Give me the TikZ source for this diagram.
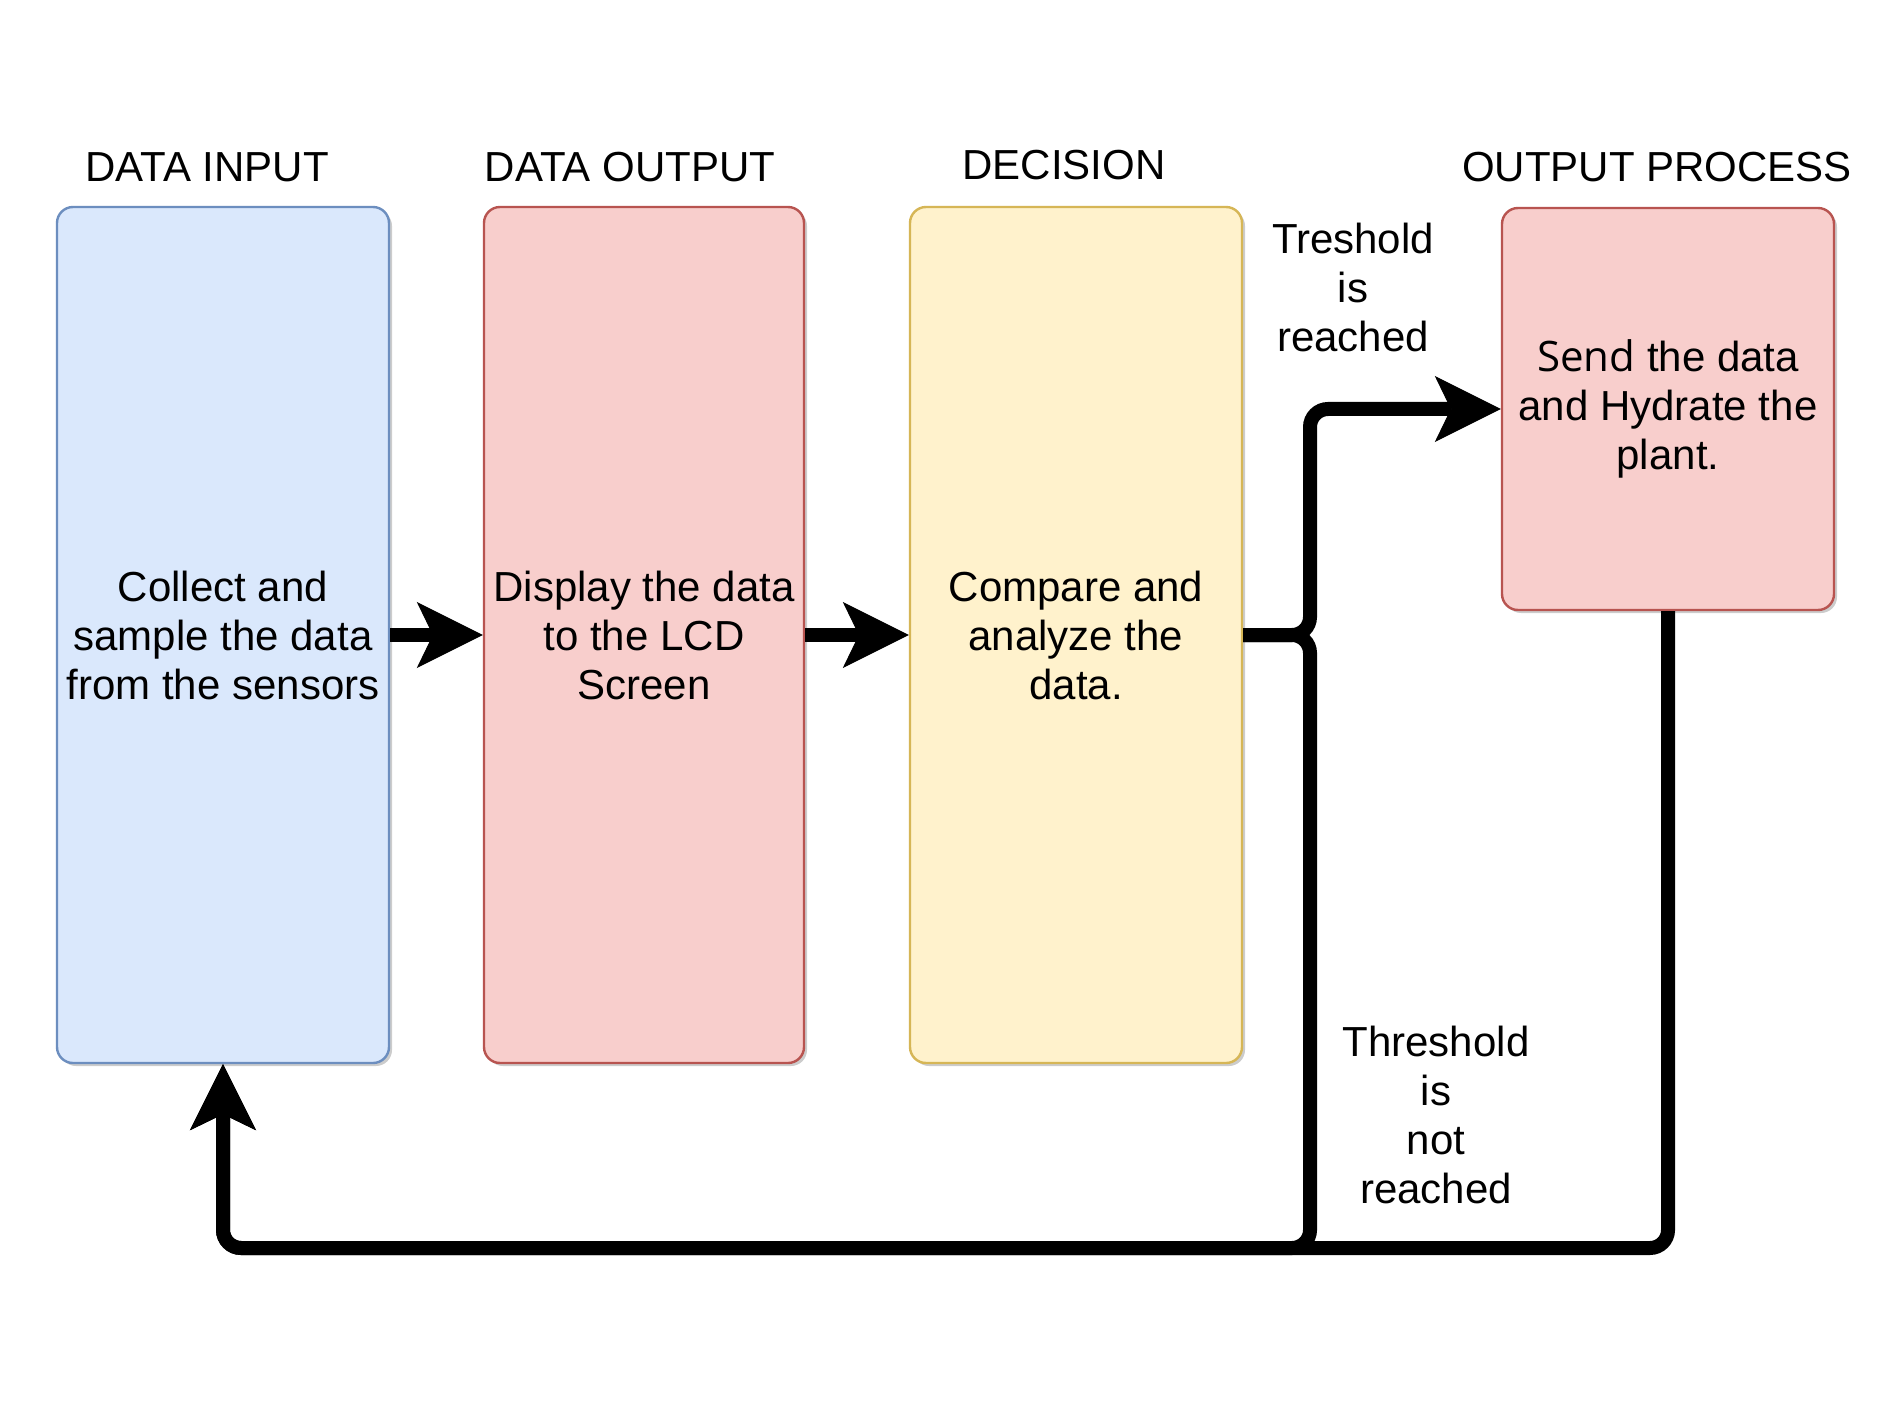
\documentclass[tikz,border=0pt]{standalone}
\usepackage{fontspec}
\setmainfont{Liberation Sans}
\newfontfamily\sendfont{Open Sans}
\usetikzlibrary{arrows.meta,shadows}
\definecolor{bluefill}{HTML}{DAE8FC}
\definecolor{bluedraw}{HTML}{6C8EBF}
\definecolor{redfill}{HTML}{F8CECC}
\definecolor{reddraw}{HTML}{B85450}
\definecolor{yelfill}{HTML}{FFF2CC}
\definecolor{yeldraw}{HTML}{D6B656}
\begin{document}
\begin{tikzpicture}[x=0.5pt,y=-0.5pt,
  every node/.style={font=\fontsize{21pt}{24.5pt}\selectfont, text=black},
  box/.style={rounded corners=8pt, line width=1.2pt, minimum width=166pt, minimum height=428pt,
    align=center, inner sep=2pt,
    drop shadow={shadow xshift=1.5pt, shadow yshift=-1.5pt, opacity=0.2, fill=black}},
  title/.style={align=center},
  lbl/.style={align=center},
  conn/.style={line width=7pt, rounded corners=9pt,
    -{Stealth[length=33pt,width=33pt,inset=8pt,line width=0.5pt]}}
  ]
\useasboundingbox (0,0) rectangle (1890,1417);
\fill[white] (0,0) rectangle (1890,1417);

% titles
\node[title] (t1) at (207,167) {DATA INPUT};
\node[title] (t2) at (630,167) {DATA OUTPUT};
\node[title] (t3) at (1064,165) {DECISION};
\node[title] (t4) at (1657,167) {OUTPUT PROCESS};

% boxes
\node[box, fill=bluefill, draw=bluedraw] (inp) at (223,635)
  {Collect and\\sample the data\\from the sensors};
\node[box, fill=redfill, draw=reddraw, minimum width=160pt] (disp) at (644,635)
  {Display the data\\to the LCD\\Screen};
\node[box, fill=yelfill, draw=yeldraw] (dec) at (1076,635)
  {Compare and\\analyze the\\data.};
\node[box, fill=redfill, draw=reddraw, minimum height=201pt] (out) at (1668,409)
  {{\sendfont Send} the data\\and Hydrate the\\plant.};

% labels
\node[lbl] (l1) at (1353,287) {Treshold\\is\\reached};
\node[lbl] (l2) at (1436,1115) {Threshold\\is\\not\\reached};

% junction coordinates
\coordinate (j) at (1310,635);
\coordinate (jb) at (1310,1248);

% connectors
\draw[conn] (inp.east) -- (disp.west);
\draw[conn] (disp.east) -- (dec.west);
\draw[conn] (dec.east) -- (j) |- (out.west);
\draw[conn] (dec.east) -- (j) -- (jb) -- (inp.south |- jb) -- (inp.south);
\draw[conn] (out.south) -- (out.south |- jb) -- (inp.south |- jb) -- (inp.south);
\end{tikzpicture}
\end{document}
